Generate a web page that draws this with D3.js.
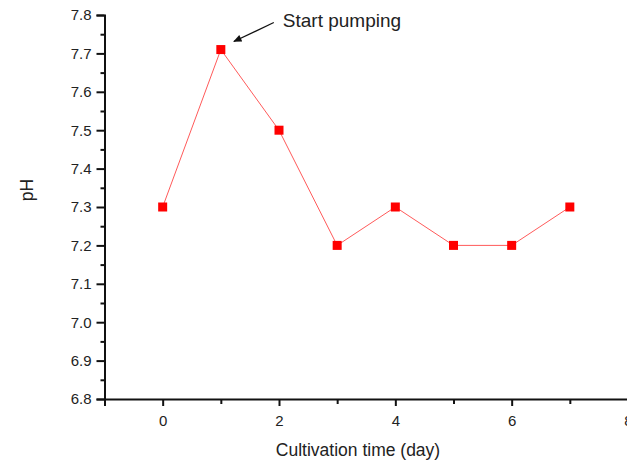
<!DOCTYPE html>
<html>
<head>
<meta charset="utf-8">
<script src="https://cdn.jsdelivr.net/npm/d3@7"></script>
<style>
  body { margin: 0; background: #fff; }
  text { font-family: "Liberation Sans", Arial, sans-serif; fill: #222; }
</style>
</head>
<body>
<div id="chart"></div>
<script>
const days = [0, 1, 2, 3, 4, 5, 6, 7];
const phValues = [7.3, 7.71, 7.5, 7.2, 7.3, 7.2, 7.2, 7.3];
const xTicks = [0, 2, 4, 6, 8];
const yTicks = [6.8, 6.9, 7.0, 7.1, 7.2, 7.3, 7.4, 7.5, 7.6, 7.7, 7.8];
const annotation = { text: 'Start pumping', day: 1, ph: 7.71 };

const svgWidth = 627, svgHeight = 463;

const svg = d3.select('#chart').append('svg')
  .attr('width', svgWidth)
  .attr('height', svgHeight);

const x = d3.scaleLinear().domain([-1, 8]).range([104.5, 628]);
const y = d3.scaleLinear().domain([6.8, 7.8]).range([399, 15]);

// y axis
const yAxis = svg.append('g')
  .attr('transform', `translate(${x(-1)},0)`)
  .call(d3.axisLeft(y).tickValues(yTicks).tickFormat(d3.format('.1f')).tickSize(8).tickPadding(5));
yAxis.selectAll('.tick text').attr('font-size', 15);

svg.append('g')
  .attr('transform', `translate(${x(-1)},0)`)
  .call(d3.axisLeft(y).tickValues(d3.range(6.85, 7.8, 0.1)).tickFormat('').tickSize(4))
  .select('.domain').remove();

// x axis (the 8 label is clipped by the window edge, as in the original)
const xAxis = svg.append('g')
  .attr('transform', `translate(0,${y(6.8)})`)
  .call(d3.axisBottom(x).tickValues(xTicks).tickFormat(d3.format('d')).tickSize(7).tickPadding(9));
xAxis.selectAll('.tick text').attr('font-size', 15);

svg.append('g')
  .attr('transform', `translate(0,${y(6.8)})`)
  .call(d3.axisBottom(x).tickValues([1, 3, 5, 7]).tickFormat('').tickSize(5))
  .select('.domain').remove();

svg.selectAll('.domain').attr('stroke', '#111').attr('stroke-width', 2);
svg.selectAll('.tick line').attr('stroke', '#111').attr('stroke-width', 2);

// axis titles
svg.append('text')
  .attr('x', 358)
  .attr('y', 456)
  .attr('text-anchor', 'middle')
  .attr('font-size', 17.5)
  .text('Cultivation time (day)');

svg.append('text')
  .attr('transform', 'translate(33,190) rotate(-90)')
  .attr('text-anchor', 'middle')
  .attr('font-size', 17.5)
  .text('pH');

// series
const data = days.map((d, i) => ({ day: d, ph: phValues[i] }));

const line = d3.line()
  .x(d => x(d.day))
  .y(d => y(d.ph));

svg.append('path')
  .datum(data)
  .attr('fill', 'none')
  .attr('stroke', '#ff5a5a')
  .attr('stroke-width', 1)
  .attr('d', line);

const s = 9;
svg.selectAll('rect.pt')
  .data(data)
  .enter().append('rect')
  .attr('class', 'pt')
  .attr('x', d => x(d.day) - s / 2)
  .attr('y', d => y(d.ph) - s / 2)
  .attr('width', s)
  .attr('height', s)
  .attr('fill', '#ff0000');

// annotation
svg.append('defs').append('marker')
  .attr('id', 'arrow')
  .attr('viewBox', '0 0 12 10')
  .attr('refX', 11)
  .attr('refY', 5)
  .attr('markerWidth', 12)
  .attr('markerHeight', 7)
  .attr('markerUnits', 'userSpaceOnUse')
  .attr('orient', 'auto')
  .append('path')
  .attr('d', 'M0,0 L12,5 L0,10 z')
  .attr('fill', '#111');

const ax = x(annotation.day), ay = y(annotation.ph);
svg.append('line')
  .attr('x1', ax + 53)
  .attr('y1', ay - 27)
  .attr('x2', ax + 13)
  .attr('y2', ay - 8)
  .attr('stroke', '#111')
  .attr('stroke-width', 1.2)
  .attr('marker-end', 'url(#arrow)');

svg.append('text')
  .attr('x', ax + 62)
  .attr('y', ay - 23)
  .attr('font-size', 19)
  .text(annotation.text);
</script>
</body>
</html>
